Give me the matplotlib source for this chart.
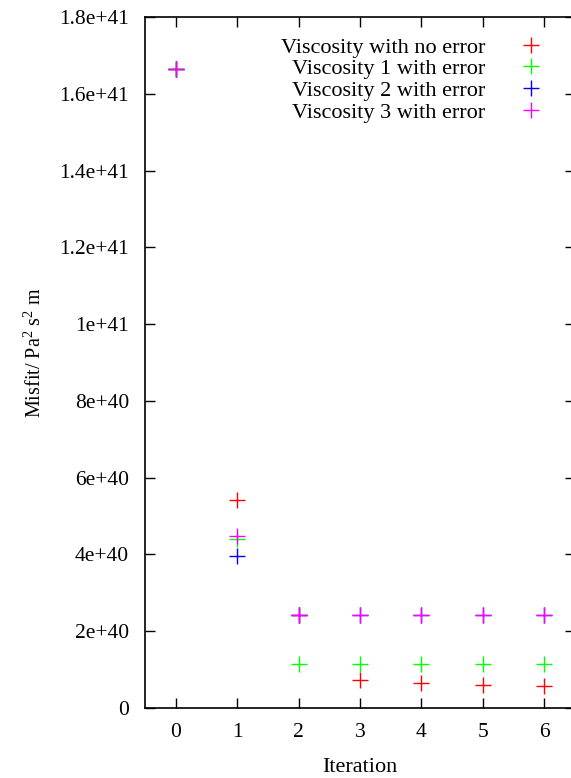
import matplotlib
matplotlib.use("Agg")
import matplotlib.pyplot as plt
from matplotlib.ticker import FixedLocator

plt.rcParams['font.family'] = ['Liberation Serif', 'DejaVu Serif']
plt.rcParams['mathtext.fontset'] = 'custom'
plt.rcParams['mathtext.rm'] = 'Liberation Serif'
plt.rcParams['mathtext.it'] = 'Liberation Serif:italic'

iterations = [0, 1, 2, 3, 4, 5, 6]
misfit_no_error = [1.665e41, 5.42e40, 2.41e40, 7.3e39, 6.6e39, 6.0e39, 5.7e39]
misfit_visc1 = [1.665e41, 4.41e40, 1.146e40, 1.146e40, 1.146e40, 1.146e40, 1.146e40]
misfit_visc2 = [1.665e41, 3.97e40, 2.42e40, 2.42e40, 2.42e40, 2.42e40, 2.42e40]
misfit_visc3 = [1.665e41, 4.48e40, 2.42e40, 2.42e40, 2.42e40, 2.42e40, 2.42e40]

series_labels = ["Viscosity with no error", "Viscosity 1 with error",
                 "Viscosity 2 with error", "Viscosity 3 with error"]
series_colors = ["#ff0000", "#00ff00", "#0000ff", "#ff00ff"]

ytick_values = [0, 2e40, 4e40, 6e40, 8e40, 1e41, 1.2e41, 1.4e41, 1.6e41, 1.8e41]
ytick_labels = ["0", "2e+40", "4e+40", "6e+40", "8e+40", "1e+41",
                "1.2e+41", "1.4e+41", "1.6e+41", "1.8e+41"]

W, H = 571, 778
fig = plt.figure(figsize=(W / 100, H / 100), dpi=100)
ax = fig.add_axes([145 / W, (H - 708) / H, (575 - 145) / W, (708 - 17) / H])

for vals, lab, col in zip([misfit_no_error, misfit_visc1, misfit_visc2, misfit_visc3],
                          series_labels, series_colors):
    ax.plot(iterations, vals, linestyle='none', marker='+', markersize=11.5,
            markeredgewidth=1.0, color=col, label=lab)

ax.set_xlim(-0.5, 6.5)
ax.set_ylim(0, 1.8e41)
ax.xaxis.set_major_locator(FixedLocator(iterations))
ax.set_xticklabels([str(i) for i in iterations])
ax.yaxis.set_major_locator(FixedLocator(ytick_values))
ax.set_yticklabels(ytick_labels)

ax.tick_params(direction='in', length=7, width=1, top=True, right=True,
               labelsize=15.5)
ax.tick_params(axis='y', pad=11.5)
ax.tick_params(axis='x', pad=10.5)
for s in ax.spines.values():
    s.set_linewidth(1.2)

ax.set_xlabel("Iteration", fontsize=16, labelpad=12)
ax.set_ylabel("Misfit/ Pa$^{2}$ s$^{2}$ m", fontsize=14.5)
ax.yaxis.set_label_coords((46 - 145) / 430, (708 - 353) / 691)

leg = ax.legend(loc='upper right', bbox_to_anchor=(545 / W, (H - 37) / H),
                bbox_transform=fig.transFigure, frameon=False, markerfirst=False,
                fontsize=16, handlelength=1.3, handletextpad=1.4,
                labelspacing=0.05, borderpad=0, borderaxespad=0)

fig.savefig("out.png", dpi=100)
